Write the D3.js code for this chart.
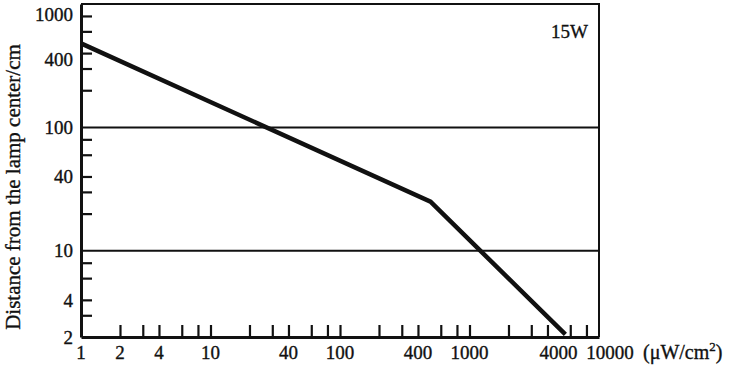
<!DOCTYPE html>
<html>
<head>
<meta charset="utf-8">
<script src="https://cdn.jsdelivr.net/npm/d3@7"></script>
<style>
  body { margin: 0; background: #fff; }
  text { font-family: "Liberation Serif", "Times New Roman", serif; fill: #111; stroke: #111; stroke-width: 0.35px; }
</style>
</head>
<body>
<div class="chart"></div>
<script>
// irradiance (uW/cm2) vs distance from lamp center (cm), 15W lamp
var irradiance = [1, 500, 5500];
var distance = [480, 25, 2.1];

var xLabels = [1, 2, 4, 10, 40, 100, 400, 1000, 4000, 10000];
var xMinor = [2, 3, 4, 6, 8, 10, 20, 30, 40, 60, 80, 100, 200, 300, 400, 600, 800, 1000, 2000, 3000, 4000, 6000, 8000];
var yLabels = [2, 4, 10, 40, 100, 400, 1000];
var yMinor = [3, 4, 6, 8, 20, 30, 40, 60, 80, 200, 300, 400, 600, 800];
var yGrid = [10, 100];

var svgWidth = 733, svgHeight = 368;

var svg = d3.select(".chart").append("svg")
  .attr("width", svgWidth)
  .attr("height", svgHeight);

var x = d3.scaleLog().domain([1, 10000]).range([81, 599]);
var y = d3.scaleLog().domain([2, 1000]).range([337, 4]);

// frame (top + right)
svg.append("path")
  .attr("d", "M" + x(1) + "," + y(1000) + "H" + x(10000) + "V" + y(2))
  .attr("fill", "none")
  .attr("stroke", "#111")
  .attr("stroke-width", 2);

// gridlines at 10 and 100
svg.selectAll(".grid")
  .data(yGrid)
  .enter()
  .append("line")
  .attr("class", "grid")
  .attr("x1", x(1))
  .attr("x2", x(10000))
  .attr("y1", d => y(d))
  .attr("y2", d => y(d))
  .attr("stroke", "#111")
  .attr("stroke-width", 2);

// x minor ticks (pointing up)
var xTickAxis = d3.axisBottom(x).tickValues(xMinor).tickSizeInner(-12).tickSizeOuter(0).tickFormat("");
var gx = svg.append("g")
  .attr("transform", "translate(0," + y(2) + ")")
  .call(xTickAxis);
gx.select(".domain").attr("stroke", "#111").attr("stroke-width", 3);
gx.selectAll(".tick line").attr("stroke", "#111").attr("stroke-width", 2.2);

// x labels
svg.append("g")
  .selectAll("text")
  .data(xLabels)
  .enter()
  .append("text")
  .attr("x", d => x(d) + (d >= 4000 ? 11 : 0))
  .attr("y", 359)
  .attr("text-anchor", "middle")
  .attr("font-size", "19px")
  .text(d => d);

// unit
var unit = svg.append("text")
  .attr("x", 643)
  .attr("y", 359)
  .attr("font-size", "20px");
unit.append("tspan").text("(\u03bcW/cm");
unit.append("tspan").attr("font-size", "13px").attr("dy", -8).text("2");
unit.append("tspan").attr("dy", 8).text(")");

// y minor ticks (pointing right)
var yTickAxis = d3.axisLeft(y).tickValues(yMinor).tickSizeInner(-11).tickSizeOuter(0).tickFormat("");
var gy = svg.append("g")
  .attr("transform", "translate(" + x(1) + ",0)")
  .call(yTickAxis);
gy.select(".domain").attr("stroke", "#111").attr("stroke-width", 3);
gy.selectAll(".tick line").attr("stroke", "#111").attr("stroke-width", 2.2);

// y labels (top two nudged down like the original)
svg.append("g")
  .selectAll("text")
  .data(yLabels)
  .enter()
  .append("text")
  .attr("x", 73)
  .attr("y", d => y(d) + (d === 1000 ? 10 : d === 400 ? 6 : 0))
  .attr("dy", "0.35em")
  .attr("text-anchor", "end")
  .attr("font-size", "19px")
  .text(d => d);

// y axis title
svg.append("text")
  .attr("transform", "translate(20," + 187 + ") rotate(-90)")
  .attr("text-anchor", "middle")
  .attr("font-size", "21px")
  .text("Distance from the lamp center/cm");

// lamp label
svg.append("text")
  .attr("x", 588)
  .attr("y", 38)
  .attr("text-anchor", "end")
  .attr("font-size", "19px")
  .text("15W");

// data line
var pts = irradiance.map((v, i) => [v, distance[i]]);
svg.append("path")
  .datum(pts)
  .attr("fill", "none")
  .attr("stroke", "#111")
  .attr("stroke-width", 4.5)
  .attr("d", d3.line().x(d => x(d[0])).y(d => y(d[1])));
</script>
</body>
</html>
